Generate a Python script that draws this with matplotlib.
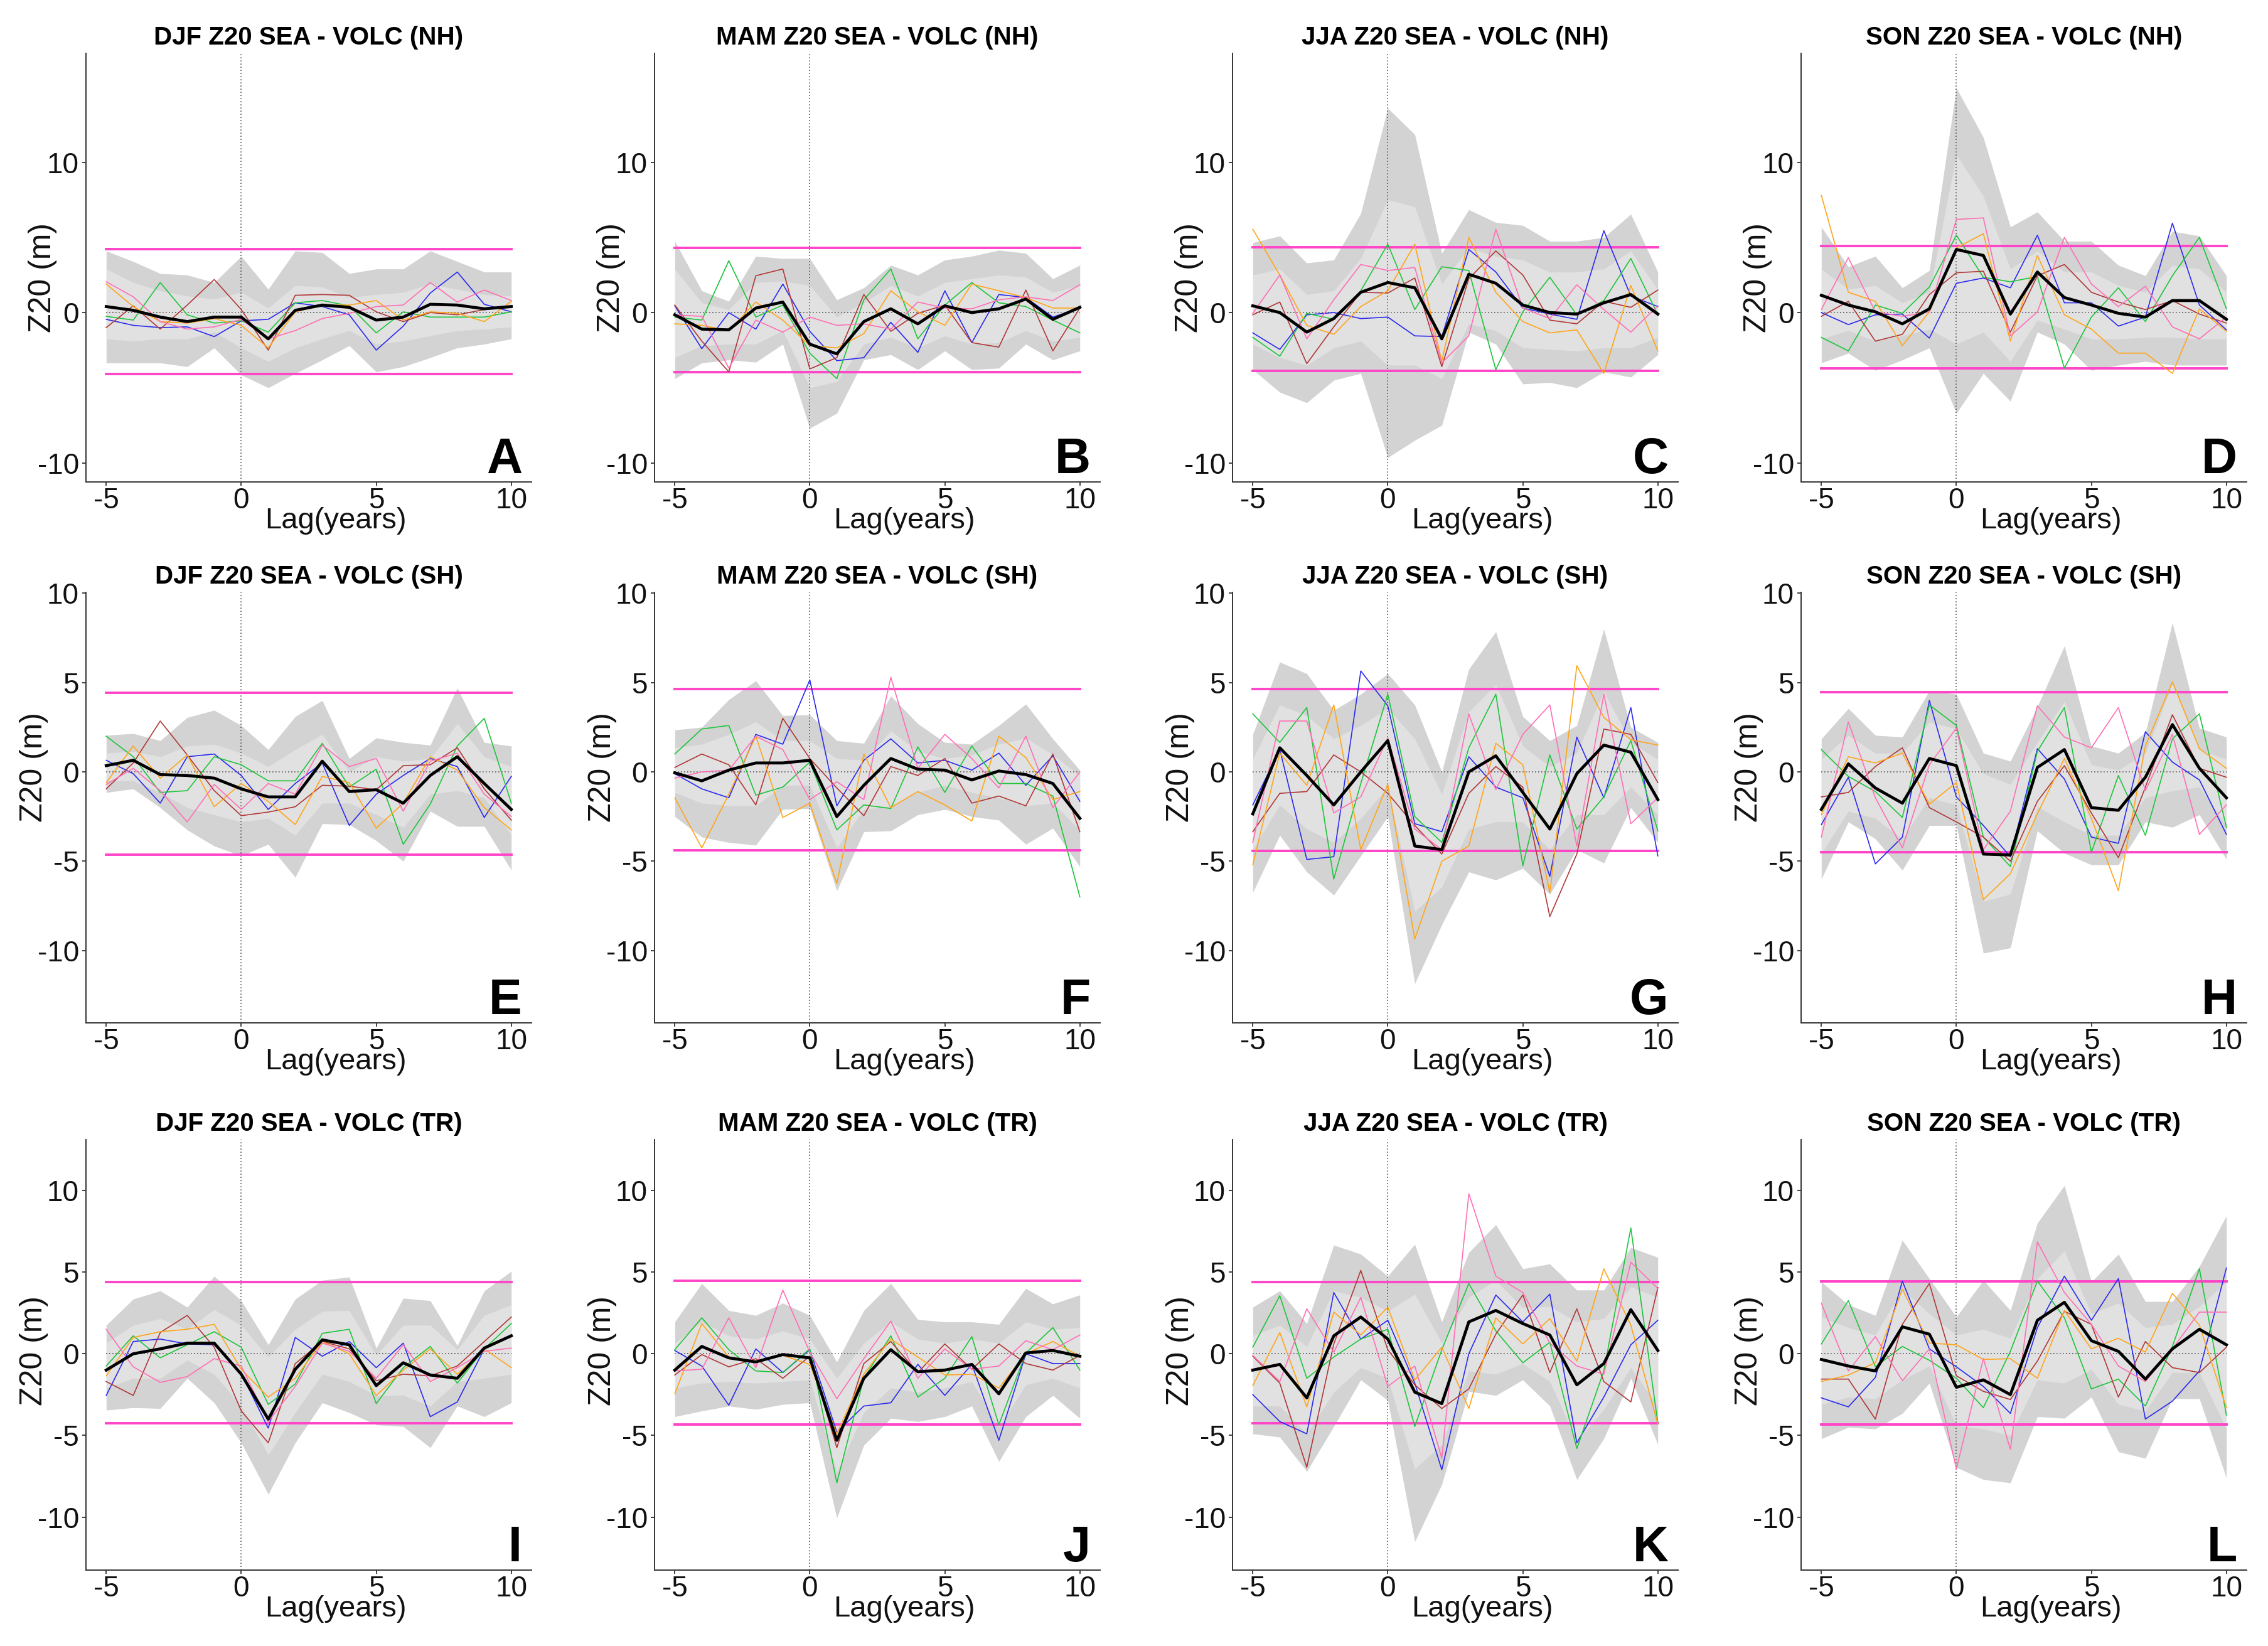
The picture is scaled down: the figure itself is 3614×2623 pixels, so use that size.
import matplotlib
matplotlib.use('Agg')
import matplotlib.pyplot as plt

plt.rcParams['font.family'] = ['Liberation Sans', 'DejaVu Sans']
plt.rcParams['axes.unicode_minus'] = False

LAG = list(range(-5, 11))
SEASONS = ['DJF', 'MAM', 'JJA', 'SON']
REGIONS = ['NH', 'SH', 'TR']
LETTERS = 'ABCDEFGHIJKL'
ROW_YLIM = [(-11.27, 17.25), (-14.05, 10.05), (-13.24, 13.11)]
ROW_YTICKS = [[-10, 0, 10], [-10, -5, 0, 5, 10], [-10, -5, 0, 5, 10]]
XTICKS = [-5, 0, 5, 10]

# ---------------- Panel A : DJF NH ----------------
A_mean = [0.4, 0.15, -0.3, -0.6, -0.3, -0.3, -1.75, 0.15, 0.5, 0.35, -0.5, -0.3, 0.55, 0.5, 0.25, 0.4]
A_blue = [-0.45, -0.85, -1.0, -0.95, -1.6, -0.55, -0.45, 0.65, 0.4, -0.15, -2.5, -0.9, 1.3, 2.7, 0.55, 0.05]
A_green = [-0.25, -0.5, 2.0, -0.15, -0.7, -0.55, -1.3, 0.65, 0.8, 0.45, -1.35, 0.05, -0.3, -0.3, -0.3, 0.05]
A_red = [-1.0, 0.45, -1.1, 0.5, 2.2, 0.2, -2.5, 1.15, 1.2, 1.15, 0.05, -0.6, 0.0, -0.15, 0.2, 0.4]
A_orange = [1.9, 0.4, -0.6, -0.7, -0.4, -0.85, -2.35, 0.05, 0.5, 0.5, 0.8, -0.5, 0.05, -0.05, -0.6, 0.75]
A_pink = [2.05, 1.05, -0.6, -1.1, -0.95, -0.45, -1.75, -1.2, -0.4, -0.05, 0.4, 0.5, 2.0, 0.7, 1.5, 0.8]
A_out_hi = [4.1, 3.4, 2.6, 2.5, 2.0, 3.75, 1.55, 4.1, 4.0, 2.6, 2.9, 2.9, 4.1, 3.4, 2.7, 2.7]
A_out_lo = [-3.35, -3.35, -3.35, -3.6, -2.35, -4.15, -5.0, -4.05, -3.15, -2.2, -3.95, -3.6, -3.0, -2.35, -2.1, -1.75]
A_in_hi = [2.9, 2.0, 1.45, 1.1, 0.9, 1.35, 0.3, 1.8, 1.7, 1.0, 1.2, 1.35, 1.9, 1.55, 1.2, 1.1]
A_in_lo = [-1.75, -1.9, -1.75, -1.75, -1.3, -2.35, -3.25, -2.35, -1.75, -1.2, -2.1, -1.9, -1.55, -1.2, -1.1, -0.95]
A_thr = [4.24, -4.10]

# ---------------- Panel B : MAM NH ----------------
B_mean = [-0.15, -1.1, -1.15, 0.3, 0.7, -2.1, -2.75, -0.6, 0.25, -0.75, 0.45, 0.0, 0.25, 0.9, -0.45, 0.35]
B_blue = [0.45, -2.4, 0.0, -1.1, 1.9, -1.25, -3.2, -3.0, -0.65, -2.65, 1.45, -2.0, 1.2, 1.0, -0.3, 0.3]
B_green = [-0.3, -0.5, 3.45, -0.3, 0.5, -2.7, -4.4, 0.85, 2.9, -1.75, 0.5, 2.0, 0.65, 0.4, -0.5, -1.35]
B_red = [0.5, -1.9, -3.95, 2.45, 2.9, -3.75, -3.0, 1.2, -1.25, -0.05, 0.5, -2.0, -2.3, 1.5, -2.55, 0.3]
B_orange = [-0.75, -0.85, -1.2, 0.7, -0.5, -2.2, -2.35, -1.4, 1.45, 0.05, -0.85, 1.9, 1.45, 1.0, 0.3, 0.3]
B_pink = [-0.15, -0.25, -3.7, -0.5, -1.3, -0.3, -0.85, -0.75, -1.1, 0.7, 0.3, 0.25, 0.85, 1.05, 0.8, 1.85]
B_out_hi = [4.75, 1.45, 0.75, 3.75, 3.6, 3.6, 0.85, 1.65, 3.15, 2.5, 3.5, 3.75, 4.15, 3.95, 2.25, 3.15]
B_out_lo = [-4.4, -3.35, -3.15, -3.3, -2.1, -7.7, -6.7, -3.15, -2.8, -3.8, -2.55, -3.8, -3.7, -2.1, -3.15, -2.55]
B_in_hi = [2.9, 0.65, 0.2, 2.0, 2.1, 1.8, -0.3, 0.65, 1.8, 1.1, 2.0, 2.25, 2.5, 2.35, 1.35, 1.8]
B_in_lo = [-3.0, -2.2, -2.1, -2.1, -1.2, -5.0, -4.6, -2.1, -1.65, -2.35, -1.55, -2.1, -2.0, -1.2, -1.9, -1.65]
B_thr = [4.30, -3.96]

# ---------------- Panel C : JJA NH ----------------
C_mean = [0.45, 0.0, -1.3, -0.4, 1.35, 2.0, 1.65, -1.75, 2.55, 1.95, 0.5, 0.0, -0.1, 0.65, 1.2, -0.1]
C_blue = [-1.35, -2.45, -0.15, 0.0, -0.4, -0.3, -1.55, -1.6, 4.2, 2.7, 0.3, -0.1, -0.45, 5.45, 1.1, 0.4]
C_green = [-1.65, -2.9, -0.05, -0.45, 1.45, 4.55, 0.2, 3.05, 2.8, -3.8, 0.05, 2.35, -0.15, 0.8, 3.6, -0.15]
C_red = [-0.15, 0.7, -3.4, -0.95, 1.35, 1.3, 2.3, -3.6, 2.25, 4.1, 2.5, -0.5, -0.75, 0.75, 0.35, 1.5]
C_orange = [5.55, 2.5, -0.85, -1.45, 0.4, 1.45, 4.55, -3.25, 5.0, 1.35, -0.6, -1.35, -1.15, -4.05, 1.8, -2.55]
C_pink = [-0.05, 2.5, -1.75, 0.85, 3.2, 2.8, 3.0, -3.35, -1.55, 5.55, 0.3, -0.4, 1.85, 0.2, -1.3, 0.45]
C_out_hi = [4.65, 5.1, 3.3, 3.5, 6.6, 13.6, 11.85, 3.95, 6.85, 6.0, 5.8, 4.75, 4.75, 5.0, 6.55, 2.7]
C_out_lo = [-3.8, -5.3, -6.0, -4.5, -4.05, -9.65, -8.5, -7.5, -1.3, -2.1, -4.75, -4.65, -5.0, -3.95, -4.3, -2.8]
C_in_hi = [2.5, 2.9, 1.2, 1.45, 3.6, 7.5, 7.05, 1.9, 4.3, 3.75, 3.5, 2.7, 2.7, 2.9, 4.1, 1.55]
C_in_lo = [-2.1, -3.0, -3.5, -2.35, -1.9, -3.5, -3.5, -4.4, -0.75, -1.2, -2.35, -2.45, -2.55, -2.35, -2.35, -1.65]
C_thr = [4.35, -3.87]

# ---------------- Panel D : SON NH ----------------
D_mean = [1.15, 0.5, 0.05, -0.75, 0.25, 4.2, 3.8, -0.1, 2.7, 1.0, 0.5, -0.05, -0.3, 0.8, 0.8, -0.45]
D_blue = [0.0, -0.8, -0.15, -0.1, -1.7, 1.95, 2.3, 1.65, 5.15, 0.65, 0.65, -0.9, -0.3, 5.95, 0.5, -1.15]
D_green = [-1.65, -2.55, 0.5, -0.05, 1.7, 5.15, 2.35, 2.05, 2.4, -3.7, -0.3, 1.65, -0.6, 2.45, 5.0, 0.25]
D_red = [-0.25, 0.75, -1.9, -1.45, 1.2, 2.65, 2.75, -1.3, 2.45, 3.2, 1.35, 0.7, 0.2, 0.8, -0.1, -0.7]
D_orange = [7.8, 1.35, 0.75, -2.2, 0.05, 4.3, 5.25, -1.9, 3.8, -0.15, -1.1, -2.7, -2.7, -4.05, 0.25, -1.25]
D_pink = [0.2, 3.65, 0.05, -0.25, 0.05, 6.2, 6.3, -1.55, 0.05, 5.0, 1.9, 0.4, 1.75, -0.95, -1.75, -0.3]
D_out_hi = [5.7, 3.05, 3.75, 1.65, 2.8, 14.95, 11.65, 5.7, 6.7, 4.75, 4.75, 3.15, 2.45, 5.4, 5.1, 2.45]
D_out_lo = [-3.35, -2.7, -3.85, -3.15, -2.35, -6.7, -4.05, -5.9, -1.3, -2.1, -3.85, -3.5, -3.25, -3.5, -3.5, -3.5]
D_in_hi = [2.9, 1.55, 1.8, 0.65, 1.35, 10.5, 7.75, 2.9, 4.1, 2.7, 2.7, 1.8, 1.35, 3.15, 2.9, 1.35]
D_in_lo = [-1.75, -1.2, -1.9, -1.55, -1.1, -2.1, -1.3, -3.25, -0.5, -1.1, -1.75, -1.75, -1.65, -1.65, -1.75, -1.75]
D_thr = [4.44, -3.73]

# ---------------- Panel E : DJF SH ----------------
E_mean = [0.35, 0.65, -0.15, -0.2, -0.35, -0.95, -1.4, -1.4, 0.6, -1.1, -1.0, -1.75, -0.2, 0.85, -0.65, -2.1]
E_blue = [0.65, -0.1, -1.75, 0.85, 1.0, -0.2, -2.1, -0.65, 0.5, -3.0, -1.25, -0.2, 0.75, 0.3, -2.55, -0.25]
E_green = [2.0, 0.85, -1.15, -1.05, 0.85, 0.4, -0.5, -0.5, 1.6, -0.85, 0.15, -4.05, -1.8, 1.45, 3.0, -1.75]
E_red = [-0.95, 0.5, 2.85, 0.95, -1.05, -2.45, -2.25, -1.95, -0.75, -0.8, -1.0, 0.35, 0.4, 1.35, -0.95, -2.7]
E_orange = [-0.6, 1.45, -0.35, 0.95, -1.95, -0.65, -1.65, -2.95, -0.25, -0.6, -3.15, -1.75, 0.85, 0.1, -2.0, -3.25]
E_pink = [-0.7, 0.2, -1.05, -2.8, -0.7, -2.1, -0.65, -1.25, 1.5, 0.3, 0.75, -2.2, 0.6, 1.05, -1.25, -2.5]
E_out_hi = [2.05, 2.15, 1.75, 3.05, 3.45, 2.6, 1.25, 3.1, 4.0, 0.75, 1.9, 1.65, 1.5, 4.7, 1.65, 1.45]
E_out_lo = [-1.15, -0.95, -2.0, -3.25, -4.15, -4.7, -4.05, -5.9, -2.9, -2.95, -3.85, -5.0, -2.2, -3.05, -3.05, -5.5]
E_in_hi = [1.05, 1.15, 0.85, 1.45, 1.55, 1.05, 0.3, 1.25, 2.1, 0.0, 0.85, 0.6, 0.75, 2.7, 0.85, 0.3]
E_in_lo = [-0.5, -0.5, -1.15, -2.0, -2.4, -2.8, -2.6, -3.55, -1.75, -1.75, -2.4, -3.1, -1.25, -1.05, -1.45, -3.55]
E_thr = [4.42, -4.63]

# ---------------- Panel F : MAM SH ----------------
F_mean = [-0.05, -0.5, 0.1, 0.5, 0.5, 0.65, -2.5, -0.75, 0.75, 0.15, 0.1, -0.45, 0.05, -0.15, -0.65, -2.6]
F_blue = [-0.1, -0.95, -1.45, 2.1, 1.55, 5.15, -1.9, 0.65, 1.85, 0.5, 0.65, 0.1, 1.05, -0.75, 0.9, -1.65]
F_green = [1.0, 2.4, 2.6, -1.3, -0.85, 0.55, -3.25, -1.85, -2.05, 1.4, -1.15, 1.45, -0.65, -0.65, -1.35, -7.0]
F_red = [0.25, 1.0, 0.4, -1.85, 3.0, 0.75, -0.9, -2.45, 0.3, -0.2, 0.75, -1.75, -1.35, -1.9, 1.0, -3.35]
F_orange = [-1.45, -4.25, -1.25, 2.0, -2.55, -1.75, -6.25, 1.0, -2.0, -1.1, -1.85, -2.75, 2.0, 0.8, -1.55, -1.1]
F_pink = [-0.35, 0.0, 0.1, 2.0, 1.25, -1.55, -0.55, -1.55, 5.3, 0.2, 2.1, 0.75, -0.9, 2.0, -2.0, 0.0]
F_out_hi = [2.35, 2.5, 4.05, 5.1, 3.15, 3.2, 1.75, 1.6, 4.25, 2.7, 1.65, 1.55, 2.6, 3.8, 1.85, 0.1]
F_out_lo = [-2.5, -3.65, -3.95, -4.1, -2.1, -2.05, -6.65, -3.35, -3.3, -2.4, -2.1, -2.5, -2.7, -4.05, -3.15, -5.3]
F_in_hi = [1.35, 1.55, 2.1, 2.8, 1.75, 1.75, 0.75, 0.65, 2.3, 1.15, 0.75, 0.95, 1.55, 1.9, 0.95, -0.2]
F_in_lo = [-1.15, -1.75, -1.9, -1.9, -0.75, -0.75, -4.25, -2.1, -1.9, -1.15, -0.75, -1.15, -1.45, -1.9, -1.75, -3.25]
F_thr = [4.65, -4.40]

# ---------------- Panel G : JJA SH ----------------
G_mean = [-2.35, 1.35, -0.2, -1.85, 0.0, 1.75, -4.15, -4.35, 0.0, 0.9, -1.15, -3.2, -0.1, 1.5, 1.1, -1.55]
G_blue = [-1.85, 1.25, -4.9, -4.75, 5.65, 3.7, -2.9, -3.35, 0.85, -0.85, -1.45, -5.85, 1.95, -1.45, 3.6, -4.7]
G_green = [3.25, 1.65, 3.6, -6.0, -0.65, 4.35, -2.5, -3.95, 1.35, 4.35, -5.25, 0.95, -3.2, -1.4, 1.75, -3.3]
G_red = [-3.35, -1.2, -1.1, 0.95, 0.0, -1.2, -3.0, -4.6, -1.2, 0.3, -0.85, -8.1, -4.6, 2.4, 2.1, -0.6]
G_orange = [-5.2, 1.05, -0.75, 3.75, -4.35, -0.7, -9.35, -5.0, -4.15, 1.6, 0.4, -6.75, 5.95, 3.05, 1.8, 1.5]
G_pink = [-3.95, 2.85, 2.85, -2.3, -1.4, 1.9, -3.2, -4.35, 3.25, -1.0, 2.1, 3.75, -4.15, 4.35, -2.9, -1.45]
G_out_hi = [2.1, 6.15, 5.5, 3.45, 4.35, 5.5, 3.75, 0.0, 5.75, 7.85, 3.1, 1.75, 2.6, 8.0, 2.5, 1.65]
G_out_lo = [-6.75, -3.55, -5.6, -6.9, -4.7, -2.5, -11.85, -8.55, -5.6, -6.05, -5.4, -6.85, -4.35, -5.1, -2.0, -3.95]
G_in_hi = [0.7, 3.75, 3.15, 1.85, 2.6, 3.55, 1.85, -1.25, 3.35, 4.9, 1.45, 0.3, 1.05, 4.5, 1.65, 0.7]
G_in_lo = [-4.35, -1.85, -3.2, -3.95, -2.6, -0.85, -7.8, -6.45, -3.2, -2.8, -2.8, -4.35, -2.4, -2.4, -0.85, -2.4]
G_thr = [4.63, -4.42]

# ---------------- Panel H : SON SH ----------------
H_mean = [-2.1, 0.45, -0.9, -1.75, 0.75, 0.35, -4.6, -4.65, 0.25, 1.25, -2.0, -2.15, -0.3, 2.65, 0.2, -1.45]
H_blue = [-2.95, -0.3, -5.15, -3.65, 4.0, -1.4, -3.0, -4.75, 1.3, -0.4, -3.65, -4.0, 2.25, 0.55, -0.45, -3.5]
H_green = [1.25, -0.25, -1.1, -2.55, 3.75, 2.6, -3.65, -5.3, 1.15, 3.6, -4.5, -0.2, -3.55, 1.85, 3.25, -3.1]
H_red = [-1.4, -1.15, 0.3, 1.35, -2.0, -2.8, -3.65, -5.0, -1.65, 0.35, -2.3, -4.8, -0.85, 3.2, 0.2, -0.3]
H_orange = [-2.4, 0.85, 0.5, 1.05, -1.8, -0.6, -7.15, -5.7, -2.35, 0.75, -2.6, -6.65, 1.45, 5.05, 1.3, 0.2]
H_pink = [-3.65, 2.8, -1.45, -4.25, 0.4, 2.45, -4.35, -2.2, 3.7, 1.95, 1.35, 3.6, -1.05, 2.1, -3.5, -1.85]
H_out_hi = [1.85, 3.55, 2.05, 1.95, 4.55, 4.35, 1.05, 0.6, 3.65, 7.05, 1.45, 1.05, 2.2, 8.35, 2.45, 1.95]
H_out_lo = [-6.0, -2.8, -3.75, -5.5, -3.0, -3.0, -10.15, -9.85, -3.3, -4.55, -5.2, -5.2, -2.8, -3.1, -2.4, -4.9]
H_in_hi = [0.7, 2.05, 1.05, 1.05, 2.8, 2.4, -0.1, -0.7, 1.65, 3.95, 0.4, 0.1, 1.05, 4.9, 1.25, 0.7]
H_in_lo = [-4.55, -2.2, -2.6, -3.75, -1.45, -1.85, -7.25, -6.85, -1.95, -2.8, -3.55, -3.55, -1.45, -1.05, -0.85, -3.0]
H_thr = [4.48, -4.50]

# ---------------- Panel I : DJF TR ----------------
I_mean = [-1.0, 0.0, 0.3, 0.65, 0.65, -1.25, -4.0, -0.95, 0.85, 0.55, -1.95, -0.55, -1.3, -1.5, 0.35, 1.1]
I_blue = [-2.55, 0.75, 0.9, 0.6, 0.55, -1.2, -4.55, 1.0, -0.15, 0.75, -0.85, 0.65, -3.85, -2.95, 0.3, 1.1]
I_green = [-0.75, 1.1, -0.25, 0.55, 1.35, 0.4, -3.1, -1.85, 1.25, 1.5, -3.05, -0.85, 0.45, -1.8, 0.3, 1.85]
I_red = [-1.7, -2.55, 1.3, 2.35, 0.4, -3.5, -5.45, -0.6, 0.75, 0.3, -1.65, -1.25, -1.35, -0.75, 0.75, 2.25]
I_orange = [-1.35, 1.0, 1.35, 1.5, 1.8, -0.95, -2.65, -1.5, 0.75, 0.0, -2.55, -1.0, 0.3, -1.25, 0.3, -0.85]
I_pink = [1.5, -0.8, -1.75, -1.4, -0.3, -0.75, -4.15, -2.0, 0.65, 0.15, -1.5, 0.55, -1.7, -0.85, 0.15, 0.35]
I_out_hi = [1.75, 3.35, 3.85, 2.85, 4.75, 3.25, 0.55, 3.35, 4.5, 4.7, 0.35, 3.4, 3.25, 0.5, 3.85, 5.05]
I_out_lo = [-3.45, -3.3, -3.35, -1.5, -3.0, -5.45, -8.6, -5.45, -3.0, -3.6, -4.35, -4.45, -5.75, -3.2, -3.85, -3.0]
I_in_hi = [0.65, 1.75, 2.15, 1.5, 2.7, 1.75, -0.2, 1.5, 2.6, 2.65, -0.1, 1.75, 1.75, 0.25, 2.35, 3.0]
I_in_lo = [-2.1, -1.5, -1.5, -0.4, -1.25, -3.2, -6.2, -3.6, -1.25, -1.7, -2.55, -2.55, -3.2, -1.7, -1.5, -1.25]
I_thr = [4.38, -4.26]

# ---------------- Panel J : MAM TR ----------------
J_mean = [-1.0, 0.45, -0.25, -0.5, -0.05, -0.25, -5.3, -1.5, 0.25, -1.1, -1.0, -0.65, -2.45, 0.05, 0.2, -0.15]
J_blue = [0.2, -0.75, -3.15, 0.3, -1.15, 0.25, -4.8, -3.2, -3.0, -0.65, -2.55, -0.65, -5.3, 0.0, -0.6, -0.6]
J_green = [0.25, 2.2, 0.25, -1.05, -1.15, 0.3, -7.9, -1.5, 1.1, -2.65, -1.5, 1.05, -4.35, 0.05, 1.6, -1.0]
J_red = [-1.3, -0.05, -0.8, -0.3, -1.5, -0.15, -5.75, -0.6, 0.75, -1.15, 0.6, -0.95, 0.6, -0.6, -1.0, -0.1]
J_orange = [-2.45, 1.85, -0.2, -0.45, -0.1, -0.65, -4.9, -1.25, 0.9, -0.2, -1.3, -1.25, -2.1, 0.0, 0.75, -0.15]
J_pink = [-1.05, -0.95, 2.2, -0.85, 3.9, 0.1, -2.75, -0.3, 2.0, -1.5, 0.3, -0.95, -0.75, 0.8, 0.25, 1.15]
J_out_hi = [1.95, 4.3, 2.65, 2.35, 3.1, 2.35, -0.5, 2.65, 4.3, 2.1, 1.95, 1.95, 1.8, 4.0, 3.05, 3.6]
J_out_lo = [-3.85, -3.5, -3.2, -3.4, -3.1, -3.0, -10.05, -5.6, -3.95, -4.15, -3.85, -3.2, -6.6, -3.85, -2.55, -3.95]
J_in_hi = [0.65, 1.95, 1.1, 0.9, 1.4, 0.9, -1.5, 0.65, 1.95, 0.9, 0.65, 0.9, 0.65, 1.95, 1.5, 1.6]
J_in_lo = [-2.1, -1.8, -1.7, -1.8, -1.7, -1.6, -7.25, -3.6, -2.1, -2.35, -2.1, -1.7, -4.5, -1.9, -1.5, -2.1]
J_thr = [4.47, -4.34]

# ---------------- Panel K : JJA TR ----------------
K_mean = [-1.0, -0.65, -2.7, 1.1, 2.25, 0.9, -2.35, -3.05, 1.95, 2.65, 1.85, 1.15, -1.9, -0.6, 2.7, 0.2]
K_blue = [-2.5, -4.15, -4.9, 3.75, 0.9, 2.05, -1.8, -7.1, 0.0, 3.6, 1.95, 3.65, -5.45, -2.65, 0.55, 2.05]
K_green = [0.4, 3.55, -1.5, -0.2, 0.9, 1.5, -4.45, 0.25, 4.3, 1.4, -0.55, 0.7, -5.8, -1.05, 7.7, -4.25]
K_red = [-0.15, -1.8, -6.95, 0.6, 5.1, 0.25, -1.9, -3.35, -2.15, 1.2, 3.6, -1.15, 2.75, -1.7, -2.95, 4.05]
K_orange = [-1.95, 1.3, -3.25, 2.55, 1.15, 2.85, -1.6, 0.4, -3.35, 2.2, 0.6, 2.15, -0.45, 5.2, 1.75, -4.3]
K_pink = [-0.1, -1.7, 2.75, 0.1, 3.45, -2.0, -0.75, -6.4, 9.8, 4.75, 3.75, 0.65, -0.75, -1.25, 5.6, 4.0]
K_out_hi = [2.85, 3.85, 1.85, 6.65, 6.1, 4.75, 6.7, 1.95, 6.2, 7.9, 5.2, 5.5, 3.9, 3.9, 6.5, 5.9]
K_out_lo = [-4.9, -5.1, -7.2, -4.45, -1.6, -2.85, -11.5, -8.0, -2.3, -2.55, -1.6, -3.2, -7.7, -5.2, -1.5, -5.55]
K_in_hi = [1.1, 1.75, 0.45, 3.85, 3.45, 2.6, 3.65, 0.65, 3.45, 4.5, 2.8, 2.9, 1.95, 2.15, 4.1, 3.45]
K_in_lo = [-3.2, -3.2, -4.9, -2.35, -0.85, -1.5, -7.05, -5.55, -1.05, -1.25, -0.6, -1.7, -5.35, -3.4, -0.85, -3.2]
K_thr = [4.38, -4.26]

# ---------------- Panel L : SON TR ----------------
L_mean = [-0.35, -0.75, -1.05, 1.65, 1.2, -2.05, -1.6, -2.5, 2.05, 3.15, 0.8, 0.15, -1.55, 0.3, 1.5, 0.55]
L_blue = [-2.7, -3.25, -1.45, 4.45, 0.3, -0.8, -2.0, -3.65, 1.6, 4.75, 2.05, 4.6, -4.0, -2.9, -1.05, 5.25]
L_green = [0.6, 3.25, -0.8, 0.45, -0.4, -1.5, -3.3, 0.15, 4.45, 2.2, -2.15, -1.55, -3.2, 0.45, 5.2, -3.75]
L_red = [-1.55, -1.55, -4.0, 1.8, 4.3, -1.35, -2.3, -2.8, -0.45, 2.6, 1.8, -2.65, 0.75, -0.85, -1.15, 0.4]
L_orange = [-1.7, -1.3, -0.55, 3.95, 0.65, 0.55, -0.35, -0.3, -1.5, 2.65, 0.3, 0.95, 0.1, 3.7, 1.75, -3.3]
L_pink = [3.1, -1.05, 1.05, -1.65, 0.3, -7.05, -0.3, -5.85, 6.85, 3.75, 1.8, -0.75, -1.7, 0.3, 2.55, 2.55]
L_out_hi = [4.4, 3.0, 2.35, 6.95, 4.6, 2.25, 4.5, 2.65, 8.0, 10.3, 4.4, 6.1, 3.2, 3.2, 5.35, 8.45]
L_out_lo = [-5.2, -4.5, -4.6, -3.65, -1.8, -6.95, -7.7, -7.9, -3.85, -3.95, -2.65, -6.0, -6.4, -2.75, -2.75, -7.6]
L_in_hi = [2.25, 1.6, 1.15, 3.95, 2.45, 1.15, 1.5, 0.95, 4.6, 6.3, 2.45, 3.1, 1.6, 1.8, 2.9, 4.4]
L_in_lo = [-3.1, -2.65, -2.75, -1.6, -0.75, -4.4, -4.6, -5.0, -1.6, -1.8, -0.95, -3.1, -3.5, -1.15, -1.15, -4.6]
L_thr = [4.43, -4.34]

g = globals()
PANELS = {}
for _L in LETTERS:
    PANELS[_L] = {k: g[f'{_L}_{k}'] for k in
                  ['mean', 'blue', 'green', 'red', 'orange', 'pink',
                   'out_hi', 'out_lo', 'in_hi', 'in_lo', 'thr']}

MEMBER_COLORS = {'blue': '#2a2aee', 'green': '#1fc43c', 'red': '#b03838',
                 'orange': '#ffa51a', 'pink': '#ff6fb5'}

W, H = 3614, 2623
fig = plt.figure(figsize=(W / 100, H / 100), dpi=100)
fig.patch.set_facecolor('white')

col_left = [137, 1043, 1964, 2870]
ax_w = 710
row_top = [85, 944, 1816]
row_bot = [768, 1630, 2502]
ylab_off = [-50, -60, -60]
ylab_y = [0.476, 0.594, 0.51]

for r, region in enumerate(REGIONS):
    for c, season in enumerate(SEASONS):
        letter = LETTERS[r * 4 + c]
        p = PANELS[letter]
        left = col_left[c] / W
        bottom = 1 - row_bot[r] / H
        height = (row_bot[r] - row_top[r]) / H
        ax = fig.add_axes([left, bottom, ax_w / W, height])
        ax.set_xlim(-5.75, 10.75)
        ax.set_ylim(*ROW_YLIM[r])
        ax.fill_between(LAG, p['out_lo'], p['out_hi'], color='#d3d3d3', lw=0, zorder=1)
        ax.fill_between(LAG, p['in_lo'], p['in_hi'], color='#e1e1e1', lw=0, zorder=2)
        ax.axvline(0, color='#555555', ls=(0, (1, 2)), lw=1.2, zorder=3)
        ax.plot([LAG[0], LAG[-1]], [0, 0], color='#555555', ls=(0, (1, 2)), lw=1.2, zorder=3)
        for t in p['thr']:
            ax.plot([LAG[0], LAG[-1]], [t, t], color='#ff44c8', lw=2.8, zorder=4)
        for name in ['blue', 'green', 'red', 'orange', 'pink']:
            ax.plot(LAG, p[name], color=MEMBER_COLORS[name], lw=1.2, zorder=5)
        ax.plot(LAG, p['mean'], color='black', lw=3.4, zorder=6)

        for s in ['top', 'right']:
            ax.spines[s].set_visible(False)
        for s in ['left', 'bottom']:
            ax.spines[s].set_color('#333333')
            ax.spines[s].set_linewidth(1.4)
        ax.set_xticks(XTICKS)
        ax.set_yticks(ROW_YTICKS[r])
        ax.tick_params(axis='both', labelsize=33, length=4, width=1.3,
                       color='#333333', labelcolor='#111111')
        ax.tick_params(axis='x', pad=2)
        ax.tick_params(axis='y', pad=4)
        ax.set_title(f'{season} Z20 SEA - VOLC ({region})', fontsize=29,
                     fontweight='bold', pad=10)
        ax.annotate('Lag(years)', xy=(0.5, 0), xycoords='axes fraction',
                    xytext=(31, -53), textcoords='offset points',
                    ha='center', va='baseline', fontsize=34, color='#111111')
        ax.annotate('Z20 (m)', xy=(0, ylab_y[r]), xycoords='axes fraction',
                    xytext=(ylab_off[r], 0), textcoords='offset points',
                    ha='center', va='center', rotation=90, fontsize=36,
                    color='#111111')
        ax.annotate(letter, xy=(1, 0), xycoords='axes fraction',
                    xytext=(-11, 10), textcoords='offset points',
                    ha='right', va='baseline', fontsize=57, fontweight='bold')

fig.savefig('out.png', dpi=100, facecolor='white')
